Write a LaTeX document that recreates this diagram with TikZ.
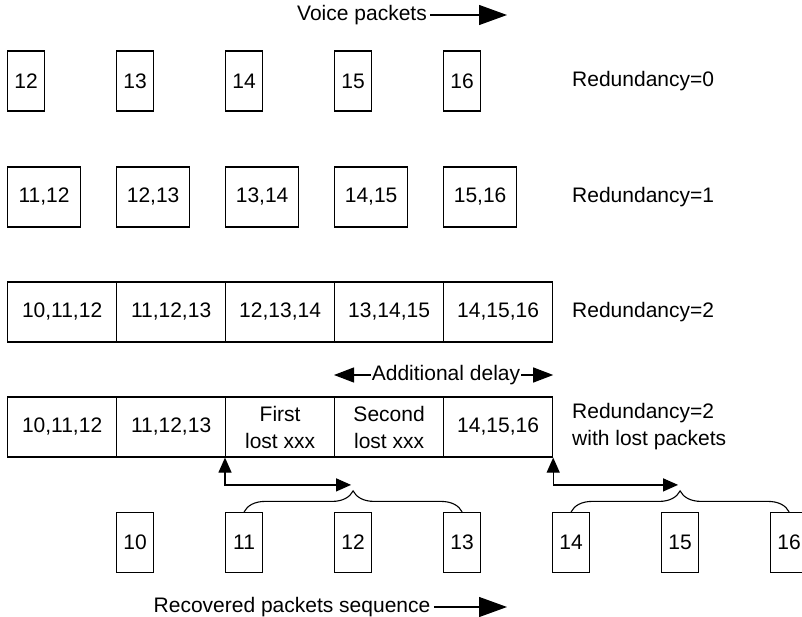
\documentclass[tikz,border=0pt]{standalone}
\usepackage{fontspec}
\setmainfont{Liberation Sans}
\usetikzlibrary{arrows.meta,calc,decorations.pathreplacing}

\begin{document}
\begin{tikzpicture}[
    x=1pt, y=1pt,
    every node/.style={font=\fontsize{21}{27}\selectfont},
    pkt/.style={rectangle, draw, line width=1.2pt, minimum width=37pt, minimum height=60pt, inner sep=0pt, anchor=west},
    pair/.style={pkt, minimum width=73pt},
    triple/.style={pkt, minimum width=109pt, align=center},
    lbl/.style={anchor=west, align=left, inner sep=0pt},
    flow/.style={-{Triangle[length=28pt, width=20pt]}, line width=1.2pt},
    delayarrow/.style={-{Triangle[length=20pt, width=15pt]}, line width=1.2pt},
    lossarrow/.style={{Triangle[length=15pt, width=13pt]}-{Triangle[length=15pt, width=13pt]}, line width=1.2pt},
    bracegroup/.style={decorate, decoration={brace, amplitude=21pt}, line width=1.1pt}
]
\useasboundingbox (0,0) rectangle (802,-617);

% Heading - voice packets
\node (voice) at (362,-15) {Voice packets};
\coordinate (voiceend) at (507,-15);
\draw[flow] (voice.east) -- (voiceend);

% Redundancy = 0
\node[pkt] (s12) at (7,-81) {12};
\node[pkt] (s13) at (116,-81) {13};
\node[pkt] (s14) at (225,-81) {14};
\node[pkt] (s15) at (334,-81) {15};
\node[pkt] (s16) at (443,-81) {16};
\node[lbl] (red0) at (572,-81) {Redundancy=0};

% Redundancy = 1
\node[pair] (d12) at (7,-197) {11,12};
\node[pair] (d13) at (116,-197) {12,13};
\node[pair] (d14) at (225,-197) {13,14};
\node[pair] (d15) at (334,-197) {14,15};
\node[pair] (d16) at (443,-197) {15,16};
\node[lbl] (red1) at (572,-197) {Redundancy=1};

% Redundancy = 2
\node[triple] (t12) at (7,-312) {10,11,12};
\node[triple] (t13) at (116,-312) {11,12,13};
\node[triple] (t14) at (225,-312) {12,13,14};
\node[triple] (t15) at (334,-312) {13,14,15};
\node[triple] (t16) at (443,-312) {14,15,16};
\node[lbl] (red2) at (572,-312) {Redundancy=2};

% Redundancy = 2 with lost packets
\node[triple] (l12) at (7,-427) {10,11,12};
\node[triple] (l13) at (116,-427) {11,12,13};
\node[triple] (lost1) at (225,-427) {First\\lost xxx};
\node[triple] (lost2) at (334,-427) {Second\\lost xxx};
\node[triple] (l16) at (443,-427) {14,15,16};
\node[lbl] (red2lost) at (572,-427) {Redundancy=2\\with lost packets};

% Additional delay
\node[inner sep=1pt] (delay) at (446,-375) {Additional delay};
\draw[delayarrow] (delay.west) -- (delay.west -| lost2.west);
\draw[delayarrow] (delay.east) -- (delay.east -| l16.east);

% Recovered packets
\node[pkt] (rec10) at (116,-542.5) {10};
\node[pkt] (rec11) at (225,-542.5) {11};
\node[pkt] (rec12) at (334,-542.5) {12};
\node[pkt] (rec13) at (443,-542.5) {13};
\node[pkt] (rec14) at (552,-542.5) {14};
\node[pkt] (rec15) at (661,-542.5) {15};
\node[pkt] (rec16) at (770,-542.5) {16};

% Recovery arrows and braces
\draw[lossarrow] (lost1.south west) |- ($(rec12.north)+(-2,27)$);
\draw[lossarrow] (l16.south east) |- ($(rec15.north)+(-2,27)$);
\draw[bracegroup] (rec11.north) -- (rec13.north);
\draw[bracegroup] (rec14.north) -- (rec16.north);

% Footer - recovered sequence
\node (recov) at (292,-607) {Recovered packets sequence};
\coordinate (recovend) at (507,-607);
\draw[flow] (recov.east) -- (recovend);

\end{tikzpicture}
\end{document}
